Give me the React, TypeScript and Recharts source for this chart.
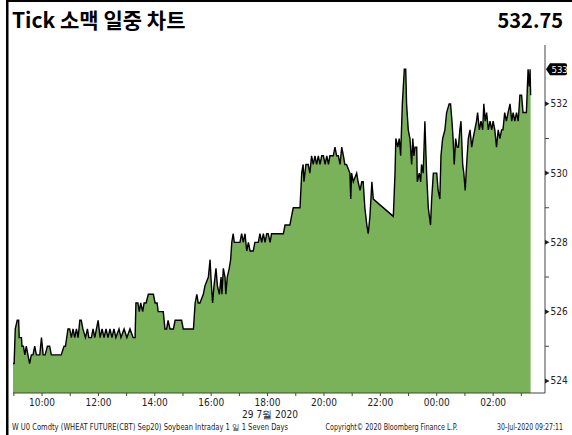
import React from "react";
import { AreaChart, Area, XAxis, YAxis } from "recharts";

// tick times in hours since midnight of 29 Jul (values past 24 = next day)
const times = [
  8.97, 9.01, 9.05, 9.12, 9.17, 9.19, 9.27, 9.29, 9.34, 9.39, 9.44, 9.5, 9.56, 9.62, 9.68, 9.74, 9.8, 9.92, 9.98, 10.04,
  10.11, 10.19, 10.27, 10.33, 10.68, 10.78, 10.83, 10.92, 10.98, 11.04, 11.1, 11.16, 11.22, 11.28, 11.34, 11.39, 11.45,
  11.54, 11.61, 11.66, 11.75, 11.81, 11.87, 11.93, 11.99, 12.06, 12.13, 12.2, 12.27, 12.34, 12.41, 12.48, 12.55, 12.62,
  12.73, 12.8, 12.91, 13.01, 13.12, 13.23, 13.3, 13.33, 13.4, 13.45, 13.5, 13.57, 13.62, 13.69, 13.77, 13.95, 14.01,
  14.08, 14.12, 14.18, 14.3, 14.36, 14.42, 14.47, 14.54, 14.66, 14.72, 14.95, 15.01, 15.37, 15.43, 15.49, 15.54, 15.6,
  15.72, 15.78, 15.9, 15.96, 15.99, 16.05, 16.1, 16.17, 16.22, 16.29, 16.35, 16.38, 16.43, 16.49, 16.52, 16.57, 16.64,
  16.69, 16.73, 16.78, 16.82, 17.02, 17.08, 17.14, 17.2, 17.26, 17.32, 17.38, 17.49, 17.55, 17.67, 17.73, 17.79, 17.85,
  17.91, 17.97, 18.02, 18.09, 18.14, 18.44, 18.56, 18.62, 18.73, 18.79, 18.85, 18.91, 18.97, 19.15, 19.18, 19.21, 19.26,
  19.29, 19.36, 19.44, 19.5, 19.56, 19.62, 19.68, 19.74, 19.8, 19.86, 19.92, 19.98, 20.04, 20.1, 20.16, 20.21, 20.33,
  20.39, 20.45, 20.51, 20.57, 20.63, 20.69, 20.74, 20.8, 20.92, 20.95, 20.98, 21.04, 21.16, 21.21, 21.28, 21.34, 21.39,
  21.45, 21.52, 21.57, 21.63, 21.7, 21.75, 22.46, 22.52, 22.55, 22.62, 22.67, 22.72, 22.78, 22.85, 22.9, 22.93, 22.99,
  23.05, 23.11, 23.15, 23.19, 23.23, 23.29, 23.31, 23.38, 23.43, 23.46, 23.52, 23.58, 23.64, 23.7, 23.78, 23.82, 23.88,
  24.0, 24.05, 24.11, 24.15, 24.21, 24.29, 24.35, 24.44, 24.49, 24.54, 24.58, 24.62, 24.67, 24.72, 24.77, 24.82, 24.86,
  24.92, 24.96, 25.01, 25.06, 25.12, 25.18, 25.24, 25.29, 25.35, 25.41, 25.45, 25.51, 25.57, 25.63, 25.67, 25.72, 25.77,
  25.83, 25.89, 25.95, 26.0, 26.06, 26.12, 26.18, 26.24, 26.3, 26.35, 26.41, 26.47, 26.53, 26.6, 26.66, 26.71, 26.77,
  26.83, 26.89, 26.95, 27.01, 27.06, 27.18, 27.24, 27.28, 27.31, 27.33,
];

const prices = [
  524.5, 524.5, 525.5, 525.75, 525.75, 525.25, 525.25, 525.0, 525.0, 524.75, 525.0, 524.75, 524.5, 524.75, 524.75,
  525.0, 524.75, 524.75, 525.25, 524.75, 524.75, 525.0, 525.0, 524.75, 524.75, 525.0, 525.0, 525.5, 525.5, 525.25,
  525.5, 525.25, 525.5, 525.25, 525.75, 525.75, 525.5, 525.25, 525.5, 525.25, 525.25, 525.5, 525.25, 525.5, 525.75,
  525.25, 525.5, 525.25, 525.5, 525.25, 525.5, 525.25, 525.5, 525.25, 525.5, 525.25, 525.5, 525.25, 525.5, 525.25,
  525.25, 526.25, 526.25, 526.0, 526.25, 526.0, 526.25, 526.25, 526.5, 526.5, 526.25, 526.25, 526.0, 526.0, 526.0,
  525.5, 525.5, 525.75, 525.5, 525.5, 525.75, 525.75, 525.5, 525.5, 526.25, 526.5, 526.25, 526.25, 526.5, 526.75,
  527.0, 527.5, 527.0, 526.25, 526.75, 527.25, 526.75, 526.5, 527.0, 526.5, 527.25, 527.0, 526.5, 527.0, 527.25,
  527.5, 528.0, 528.25, 528.0, 528.0, 528.25, 528.0, 528.25, 527.75, 528.0, 527.75, 527.75, 528.0, 528.0, 528.25,
  528.0, 528.25, 528.0, 528.25, 528.25, 528.0, 528.25, 528.25, 528.25, 528.5, 528.5, 528.5, 528.75, 529.0, 529.0,
  529.0, 529.5, 530.0, 530.25, 529.75, 530.25, 530.25, 530.0, 530.5, 530.25, 530.5, 530.25, 530.5, 530.25, 530.5,
  530.5, 530.25, 530.5, 530.25, 530.5, 530.5, 530.75, 530.5, 530.5, 530.25, 530.75, 530.5, 530.25, 530.25, 530.0,
  529.25, 530.0, 529.75, 530.0, 529.75, 529.5, 529.75, 529.75, 529.0, 528.5, 528.25, 528.75, 529.75, 529.25, 528.75,
  530.0, 531.0, 530.75, 531.0, 530.5, 532.0, 533.0, 533.0, 532.0, 531.25, 531.0, 530.25, 531.0, 530.5, 530.75,
  530.75, 529.75, 530.0, 529.75, 530.25, 530.0, 531.5, 530.0, 529.0, 528.5, 529.25, 530.0, 530.0, 529.5, 529.25,
  530.5, 531.0, 531.25, 531.75, 532.0, 532.0, 531.5, 531.0, 530.25, 531.0, 530.75, 530.75, 531.25, 531.5, 530.25,
  530.0, 529.5, 530.25, 531.0, 531.25, 530.75, 531.0, 531.25, 531.5, 531.75, 531.25, 531.5, 531.25, 532.0, 531.5,
  531.75, 531.25, 531.5, 531.25, 531.5, 531.25, 530.75, 531.25, 531.0, 531.25, 531.25, 531.75, 531.5, 531.75, 532.0,
  531.5, 531.75, 531.5, 531.75, 531.5, 532.25, 532.25, 531.75, 531.75, 533.0, 532.5, 533.0, 532.25,
];

const xTicks = [9, 10, 11, 12, 13, 14, 15, 16, 17, 18, 19, 20, 21, 22, 23, 24, 25, 26, 27];
const yTicks = [524, 525, 526, 527, 528, 529, 530, 531, 532, 533];
const tagValue = 533;

const title = "Tick 소맥 일중 차트";
const lastPrice = "532.75";
const dateLabel = "29 7월 2020";
const footerLeft = "W U0 Comdty (WHEAT FUTURE(CBT) Sep20) Soybean Intraday 1 일 1 Seven Days";
const footerMid = "Copyright© 2020 Bloomberg Finance L.P.";
const footerRight = "30-Jul-2020 09:27:11";

const data = times.map((t, i) => ({ t, price: prices[i] }));

const NARROW = "'Liberation Sans Narrow', 'Arial Narrow', 'DejaVu Sans Condensed', sans-serif";
const KR = "'Noto Sans CJK KR', 'Noto Sans', sans-serif";

const XTick = ({ x, y, payload }: { x: number; y: number; payload: { value: number } }) => {
  const h = payload.value;
  const label = `${String(h % 24).padStart(2, "0")}:00`;
  return (
    <g>
      <line x1={x} x2={x} y1={y} y2={y + 3} stroke="#444" strokeWidth={1} />
      {h % 2 === 0 && (
        <text x={x} y={y + 13} textAnchor="middle" fontSize={10} fontFamily={NARROW} fill="#222">
          {label}
        </text>
      )}
    </g>
  );
};

const YTick = ({ x, y, payload }: { x: number; y: number; payload: { value: number } }) => {
  const v = payload.value;
  if (v === tagValue) {
    return (
      <g>
        <path
          d={`M${x + 1},${y} L${x + 5},${y - 6} H${x + 20} Q${x + 22},${y - 6} ${x + 22},${y - 4} V${y + 4} Q${x + 22},${y + 6} ${x + 20},${y + 6} H${x + 5} Z`}
          fill="#000"
        />
        <text x={x + 6.5} y={y + 3.5} fontSize={9.5} fontFamily={NARROW} fill="#fff">
          {v}
        </text>
      </g>
    );
  }
  if (v % 2 === 0) {
    return (
      <g>
        <path d={`M${x},${y - 2.5} L${x + 4.5},${y} L${x},${y + 2.5} Z`} fill="#222" />
        <text x={x + 5.5} y={y + 3.5} fontSize={10} fontFamily={NARROW} fill="#222">
          {v}
        </text>
      </g>
    );
  }
  return <line x1={x} x2={x + 4} y1={y} y2={y} stroke="#444" strokeWidth={1} />;
};

export default function App() {
  return (
    <div style={{ position: "absolute", left: 0, top: 0, width: 572, height: 435, background: "#fff", overflow: "hidden" }}>
      <AreaChart width={572} height={435} data={data} margin={{ top: 45, right: 0, bottom: 22, left: 13 }}>
        <XAxis
          dataKey="t"
          type="number"
          domain={[8.97, 27.84]}
          ticks={xTicks}
          interval={0}
          allowDataOverflow
          height={20}
          tickSize={0}
          tickMargin={0}
          tickLine={false}
          axisLine={{ stroke: "#444" }}
          tick={XTick}
        />
        <YAxis
          orientation="right"
          type="number"
          domain={[523.65, 533.7]}
          ticks={yTicks}
          interval={0}
          allowDataOverflow
          width={27}
          tickSize={0}
          tickMargin={0}
          tickLine={false}
          axisLine={{ stroke: "#444" }}
          tick={YTick}
        />
        <Area
          type="linear"
          dataKey="price"
          stroke="#000"
          strokeWidth={1.4}
          fill="#7ab259"
          fillOpacity={1}
          baseValue="dataMin"
          dot={false}
          activeDot={false}
          isAnimationActive={false}
        />
      </AreaChart>
      <svg width={572} height={435} style={{ position: "absolute", left: 0, top: 0, pointerEvents: "none" }}>
        <rect x={6} y={0} width={2.5} height={435} fill="#000" />
        <rect x={6} y={0} width={566} height={2} fill="#000" />
        <text x={12} y={28} fontSize={21} fontWeight="bold" fontFamily={KR} fill="#000">
          {title}
        </text>
        <text x={563} y={28} fontSize={20} fontWeight="bold" fontFamily={KR} fill="#000" textAnchor="end">
          {lastPrice}
        </text>
        <text x={270} y={418} fontSize={10} fontFamily={NARROW} fill="#222" textAnchor="middle">
          {dateLabel}
        </text>
        <text x={12} y={430} fontSize={8} fontFamily={NARROW} fill="#222" textLength={276} lengthAdjust="spacingAndGlyphs">
          {footerLeft}
        </text>
        <text x={391.5} y={430} fontSize={8} fontFamily={NARROW} fill="#222" textAnchor="middle" textLength={132} lengthAdjust="spacingAndGlyphs">
          {footerMid}
        </text>
        <text x={563} y={430} fontSize={8} fontFamily={NARROW} fill="#222" textAnchor="end" textLength={66} lengthAdjust="spacingAndGlyphs">
          {footerRight}
        </text>
      </svg>
    </div>
  );
}
